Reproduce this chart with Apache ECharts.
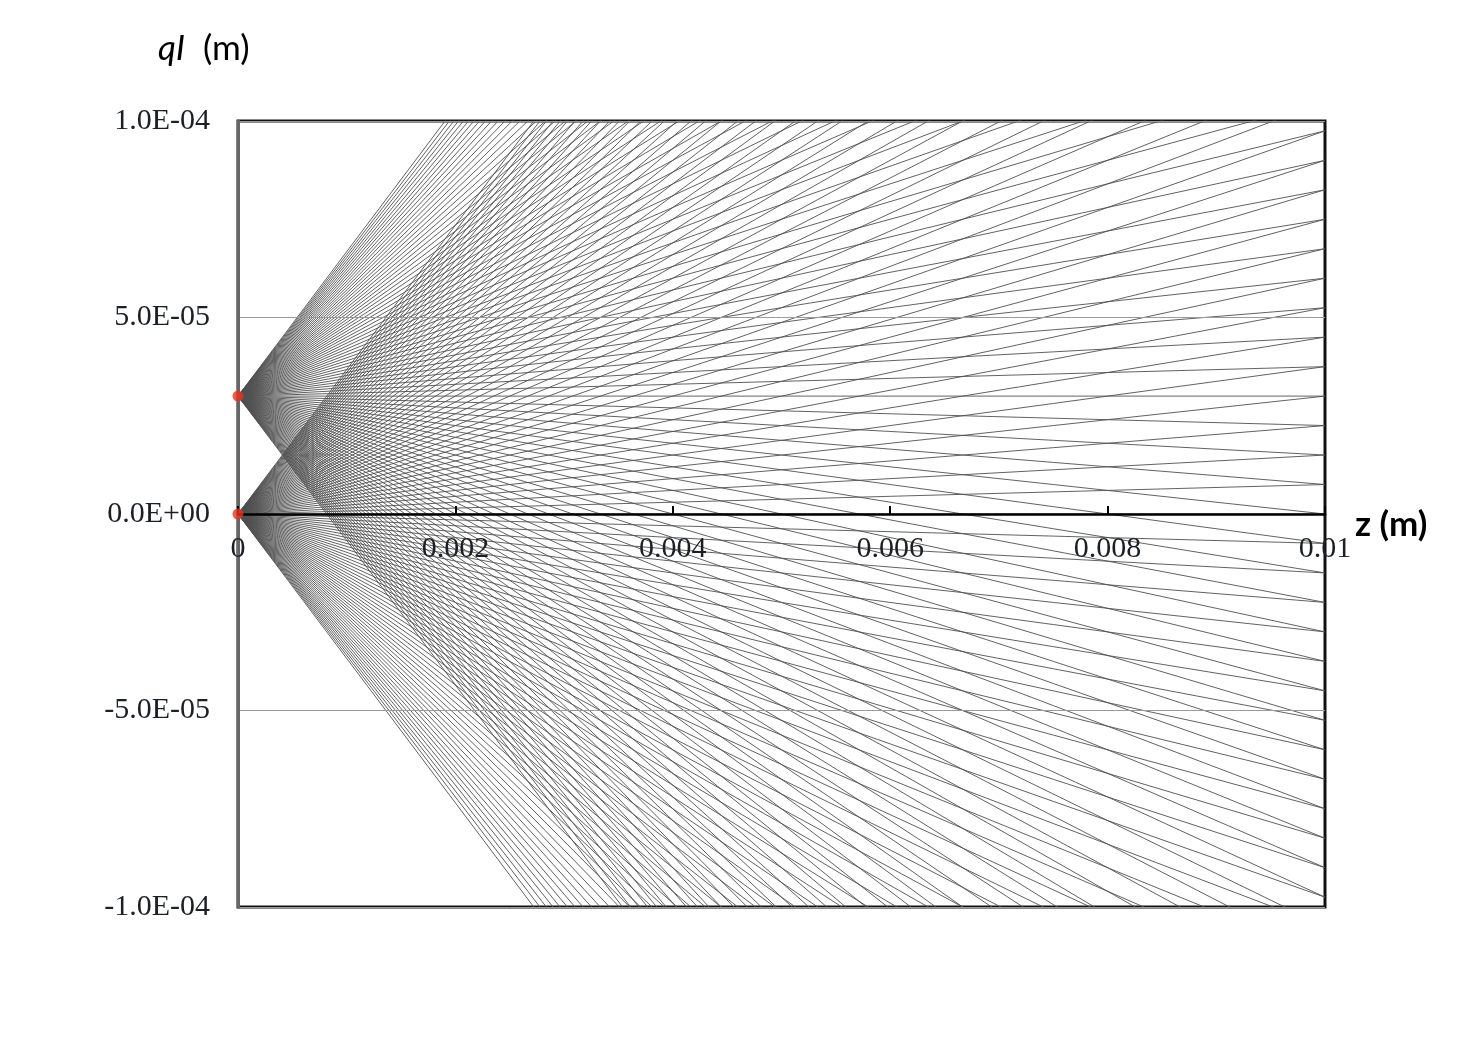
<!DOCTYPE html>
<html>
<head>
<meta charset="utf-8">
<script src="https://cdn.jsdelivr.net/npm/echarts@6/dist/echarts.min.js"></script>
<style>
html,body{margin:0;padding:0;background:#fff;}
#chart{width:1478px;height:1044px;}
</style>
</head>
<body>
<div id="chart"></div>
<script>
// Source points (z = 0) of the two ray fans, in metres
const sourceHeights = [0, 3e-5];
// Slopes (dqI/dz) of the rays leaving each source
const raySlopes = [
  -0.03675, -0.036, -0.03525, -0.0345, -0.03375, -0.033, -0.03225, -0.0315, -0.03075, -0.03,
  -0.02925, -0.0285, -0.02775, -0.027, -0.02625, -0.0255, -0.02475, -0.024, -0.02325, -0.0225,
  -0.02175, -0.021, -0.02025, -0.0195, -0.01875, -0.018, -0.01725, -0.0165, -0.01575, -0.015,
  -0.01425, -0.0135, -0.01275, -0.012, -0.01125, -0.0105, -0.00975, -0.009, -0.00825, -0.0075,
  -0.00675, -0.006, -0.00525, -0.0045, -0.00375, -0.003, -0.00225, -0.0015, -0.00075, 0,
  0.00075, 0.0015, 0.00225, 0.003, 0.00375, 0.0045, 0.00525, 0.006, 0.00675, 0.0075,
  0.00825, 0.009, 0.00975, 0.0105, 0.01125, 0.012, 0.01275, 0.0135, 0.01425, 0.015,
  0.01575, 0.0165, 0.01725, 0.018, 0.01875, 0.0195, 0.02025, 0.021, 0.02175, 0.0225,
  0.02325, 0.024, 0.02475, 0.0255, 0.02625, 0.027, 0.02775, 0.0285, 0.02925, 0.03,
  0.03075, 0.0315, 0.03225, 0.033, 0.03375, 0.0345, 0.03525, 0.036, 0.03675
];
const zEnd = 0.01;
const xTickLabels = ['0', '0.002', '0.004', '0.006', '0.008', '0.01'];
const yTickLabels = ['-1.0E-04', '-5.0E-05', '0.0E+00', '5.0E-05', '1.0E-04'];

const chart = echarts.init(document.getElementById('chart'), null, {renderer: 'canvas'});

const series = [];
sourceHeights.forEach(function (h) {
  raySlopes.forEach(function (s) {
    series.push({
      type: 'line',
      data: [[0, h], [zEnd, h + s * zEnd]],
      showSymbol: false,
      symbol: 'none',
      clip: true,
      silent: true,
      animation: false,
      lineStyle: {color: '#505050', width: 0.9},
      z: 2
    });
  });
});
series.push({
  type: 'scatter',
  data: sourceHeights.map(function (h) { return [0, h]; }),
  symbolSize: 11,
  clip: false,
  itemStyle: {color: '#e8321f'},
  z: 10,
  animation: false
});

const serif = '"Liberation Serif", "Times New Roman", serif';
const sans = 'Lato, "Open Sans", sans-serif';
const gridTop = 121, gridBottom = 137, chartH = 1044;
const plotH = chartH - gridTop - gridBottom;

chart.setOption({
  animation: false,
  backgroundColor: '#fff',
  grid: {
    left: 238, right: 153, top: gridTop, bottom: gridBottom,
    show: true, borderColor: '#111', borderWidth: 3, backgroundColor: 'transparent'
  },
  xAxis: {
    type: 'value', min: 0, max: 0.01, interval: 0.002,
    z: 5,
    position: 'bottom',
    offset: -plotH / 2,
    axisLine: {show: true, onZero: false, lineStyle: {color: '#000', width: 2.5}},
    axisTick: {show: true, inside: true, length: 8, lineStyle: {color: '#000', width: 2}},
    splitLine: {show: false},
    axisLabel: {
      margin: 20,
      fontFamily: serif, fontSize: 30, color: '#1c2026',
      formatter: function (v, i) { return xTickLabels[i]; }
    }
  },
  yAxis: {
    type: 'value', min: -1e-4, max: 1e-4, interval: 5e-5,
    z: 4,
    axisLine: {show: true, onZero: false, lineStyle: {color: '#666', width: 3}},
    axisTick: {show: false},
    splitLine: {show: true, lineStyle: {color: '#9a9a9a', width: 1}},
    axisLabel: {
      margin: 28,
      fontFamily: serif, fontSize: 30, color: '#1c2026',
      formatter: function (v, i) { return yTickLabels[i]; }
    }
  },
  graphic: [
    {
      type: 'text', left: 158, top: 31, z: 20,
      style: {
        text: '{i|qI}  (m)',
        font: '35px ' + sans, fill: '#000',
        rich: {i: {fontStyle: 'italic', fontFamily: 'Lato', fontSize: 35, fill: '#000'}}
      }
    },
    {
      type: 'text', left: 1355, top: 507, z: 20,
      style: {text: 'z (m)', font: 'bold 35px ' + sans, fill: '#000'}
    }
  ],
  series: series
});
</script>
</body>
</html>
